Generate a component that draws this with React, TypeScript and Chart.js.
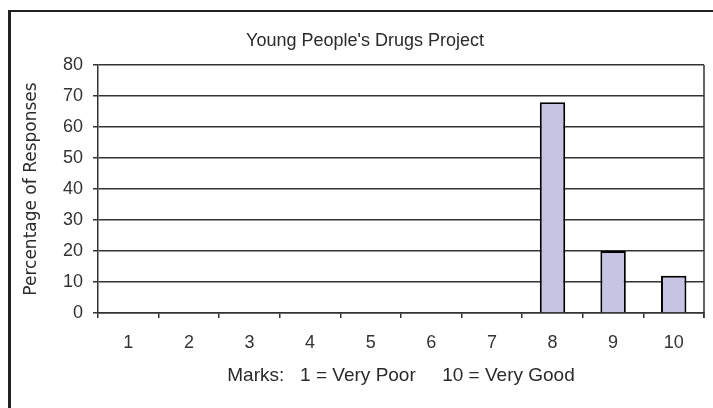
import React, { useEffect, useRef } from "react";
import { Chart, registerables } from "chart.js";

Chart.register(...registerables);

const categories = ["1", "2", "3", "4", "5", "6", "7", "8", "9", "10"];
const percentages = [0, 0, 0, 0, 0, 0, 0, 68, 20, 12];
const chartTitle = "Young People's Drugs Project";
const xTitle = "Marks:   1 = Very Poor     10 = Very Good";
const yTitle = "Percentage of Responses";

const SANS = "'Liberation Sans', Arial, sans-serif";
const WIDE = "'DejaVu Sans', Verdana, sans-serif";

export default function App() {
  const ref = useRef<HTMLCanvasElement | null>(null);
  useEffect(() => {
    if (!ref.current) return;
    const framePlugin = {
      id: "frame",
      beforeDraw(chart: any) {
        const ctx = chart.ctx;
        ctx.save();
        ctx.fillStyle = "#ffffff";
        ctx.fillRect(0, 0, chart.width, chart.height);
        ctx.fillStyle = "#222222";
        ctx.fillRect(8, 10, chart.width - 8, 2);
        ctx.fillRect(8, 10, 3, chart.height - 10);
        ctx.restore();
      },
      afterDraw(chart: any) {
        const { ctx, chartArea } = chart;
        ctx.save();
        ctx.strokeStyle = "#333333";
        ctx.lineWidth = 1.5;
        ctx.beginPath();
        ctx.moveTo(chartArea.right, chartArea.top);
        ctx.lineTo(chartArea.right, chartArea.bottom + 5);
        ctx.stroke();
        ctx.restore();
      },
    };
    const chart = new Chart(ref.current, {
      type: "bar",
      data: {
        labels: categories,
        datasets: [
          {
            data: percentages,
            backgroundColor: "#c6c4e2",
            borderColor: "#000000",
            borderWidth: 2,
            categoryPercentage: 1,
            barPercentage: 0.42,
          },
        ],
      },
      options: {
        animation: false,
        responsive: false,
        devicePixelRatio: 1,
        layout: { padding: { left: 26, right: 9, top: 0, bottom: 0 } },
        plugins: {
          legend: { display: false },
          tooltip: { enabled: false },
          title: {
            display: true,
            text: chartTitle,
            color: "#2a2a2a",
            font: { family: SANS, size: 18, weight: "normal", lineHeight: 1.2 },
            padding: { top: 30, bottom: 13.4 },
          },
        },
        scales: {
          x: {
            grid: {
              display: true,
              drawOnChartArea: false,
              drawTicks: true,
              tickLength: 5,
              color: "#333333",
              lineWidth: 1.5,
              offset: true,
            },
            border: { display: true, color: "#333333", width: 1.5 },
            ticks: {
              color: "#333333",
              padding: 14,
              font: { family: SANS, size: 18 },
              maxRotation: 0,
            },
            title: {
              display: true,
              text: xTitle,
              color: "#2a2a2a",
              font: { family: SANS, size: 19, lineHeight: 1.2 },
              padding: { top: 0, bottom: 20.6 },
            },
            afterFit: (s: any) => {
              s.height = 95;
            },
          },
          y: {
            min: 0,
            max: 80,
            ticks: {
              stepSize: 10,
              color: "#333333",
              padding: 10,
              font: { family: SANS, size: 18 },
            },
            grid: {
              color: "#333333",
              lineWidth: 1.5,
              tickLength: 5,
            },
            border: { display: true, color: "#333333", width: 1.5 },
            title: {
              display: true,
              text: yTitle,
              color: "#2a2a2a",
              font: { family: WIDE, size: 17, lineHeight: 1.2 },
              padding: { top: -4.7, bottom: 0 },
            },
            afterFit: (s: any) => {
              s.width = 72;
            },
          },
        },
      },
      plugins: [framePlugin],
    });
    return () => chart.destroy();
  }, []);
  return (
    <div style={{ position: "fixed", left: 0, top: 0, width: 713, height: 408 }}>
      <canvas ref={ref} width={713} height={408} style={{ width: 713, height: 408, display: "block" }} />
    </div>
  );
}
